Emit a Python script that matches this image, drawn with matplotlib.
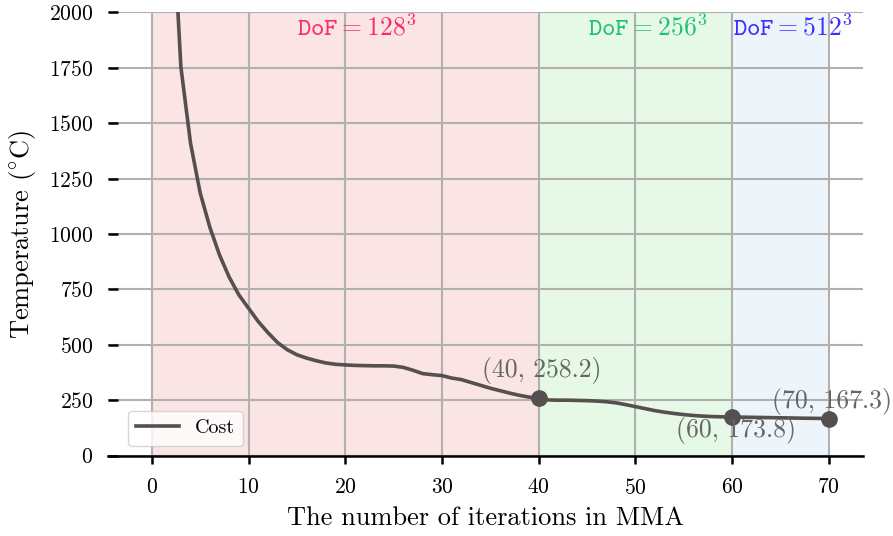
import matplotlib

matplotlib.use("Agg")
import matplotlib.pyplot as plt

plt.rcParams["font.family"] = "serif"
plt.rcParams["font.serif"] = ["cmr10"]
plt.rcParams["mathtext.fontset"] = "cm"
plt.rcParams["axes.formatter.use_mathtext"] = True

iters = list(range(71))
cost = [4800, 3600, 2570, 1755, 1410, 1185, 1030, 905, 805, 725,
        665, 605, 555, 510, 478, 455, 440, 428, 418, 412,
        409, 407, 406, 405, 405, 404, 398, 385, 370, 365,
        361, 350, 343, 330, 317, 304, 293, 282, 272, 264,
        258.2, 251, 250, 250, 249, 248, 246, 243, 238, 230,
        221, 212, 203, 196, 190, 185, 181, 178, 176, 175,
        173.8, 173.5, 172.8, 172.0, 171.2, 170.5, 169.8, 169.0, 168.4, 167.8,
        167.3]

hl_iters = [40, 60, 70]
hl_vals = [258.2, 173.8, 167.3]

stage_start = [0, 40, 60]
stage_end = [40, 60, 70]
stage_dof = [128, 256, 512]
stage_bg = ["#fae4e4", "#e6f8e6", "#edf5fa"]
stage_fg = ["#ff2a6a", "#22c073", "#3a30ff"]

fig = plt.figure(figsize=(8.93, 5.36), dpi=100)
ax = fig.add_axes([0.1213, 0.150, 0.8447, 0.827])

for a, b, c in zip(stage_start, stage_end, stage_bg):
    ax.axvspan(a, b, color=c, lw=0, zorder=0)

ax.grid(True, color="#b0b0b0", lw=1.5, zorder=1)
ax.set_axisbelow(True)

ax.plot(iters, cost, color="#554f4f", lw=2.6, label="Cost", zorder=3)
ax.plot(hl_iters, hl_vals, "o", color="#554f4f", ms=11, zorder=4)

# annotation offsets in pixels
offsets = [(3, 28), (4, -13), (3, 17)]
for x, y, off in zip(hl_iters, hl_vals, offsets):
    ax.annotate(f"({x}, {y})", (x, y), xytext=off,
                textcoords="offset pixels", ha="center", va="center",
                fontsize=18.5, color="#666666", zorder=5)

text_x = [21.2, 51.3, 66.3]
for xc, d, c in zip(text_x, stage_dof, stage_fg):
    ax.text(xc, 1990, r"$\mathtt{DoF} = %d^3$" % d, color=c, fontsize=18.5,
            ha="center", va="top", zorder=5)

ax.set_xlim(-4.5, 73.5)
ax.set_ylim(0, 2000)
ax.set_xticks(range(0, 71, 10))
ax.set_yticks(range(0, 2001, 250))

for s in ["top", "right", "left"]:
    ax.spines[s].set_visible(False)
ax.spines["bottom"].set_linewidth(1.8)

ax.tick_params(axis="y", direction="in", length=7, width=1.8, pad=11, labelsize=15.5)
ax.tick_params(axis="x", direction="out", length=6, width=1.8, pad=10, labelsize=15.5)

ax.set_xlabel("The number of iterations in MMA", fontsize=19, labelpad=6)
ax.set_ylabel(r"Temperature ($^{\circ}$C)", fontsize=19, labelpad=8)

leg = ax.legend(loc="lower left", fontsize=14.5, framealpha=0.8,
                bbox_to_anchor=(0.013, 0.0), handlelength=2.1)

fig.savefig("out.png", dpi=100)
